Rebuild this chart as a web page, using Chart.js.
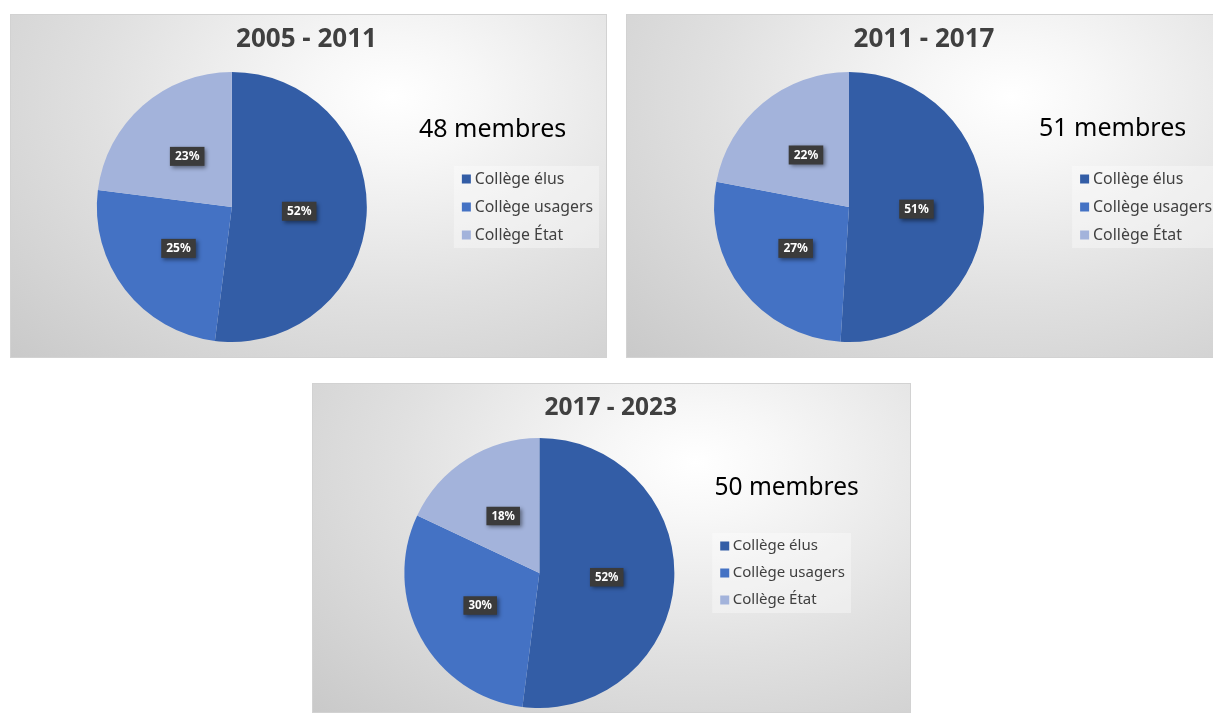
<!DOCTYPE html>
<html lang="fr">
<head>
<meta charset="utf-8">
<title>Composition par collège</title>
<script src="https://cdn.jsdelivr.net/npm/chart.js@4.4.1/dist/chart.umd.min.js"></script>
<style>
  html, body { margin: 0; padding: 0; background: #fff; }
  body { width: 1213px; height: 713px; overflow: hidden; position: relative; }
  .panel {
    position: absolute; overflow: hidden;
    background: radial-gradient(ellipse at 64% 24%, #ffffff 0%, #f7f7f7 16%, #e0e0e0 55%, #c9c9c9 100%);
    box-shadow: inset 0 0 0 1px #d2d2d2;
  }
  .panel canvas { position: absolute; left: 0; top: 0; }
  .membres { position: absolute; font-family: "Noto Sans"; color: #000; line-height: 1; white-space: nowrap; }
</style>
</head>
<body>
<div class="panel" id="p0"><canvas id="c0"></canvas><div class="membres" id="m0"></div></div>
<div class="panel" id="p1"><canvas id="c1"></canvas><div class="membres" id="m1"></div></div>
<div class="panel" id="p2"><canvas id="c2"></canvas><div class="membres" id="m2"></div></div>
<script>
// data
var periods = ['2005 - 2011', '2011 - 2017', '2017 - 2023'];
var membres = [48, 51, 50];
var colleges = ['Collège élus', 'Collège usagers', 'Collège État'];
var parts2005 = [52, 25, 23];
var parts2011 = [51, 27, 22];
var parts2017 = [52, 30, 18];
var allParts = [parts2005, parts2011, parts2017];
var colleges_colors = ['#335da6', '#4472c4', '#a3b3db'];

// layout of each panel (pixels)
var panels = [
    { left: 10,  top: 14,  width: 597, height: 344, titleSize: 26, titlePad: [10.4, 16.4], padL: 0,    padR: 4,  padB: 16,
      legendSize: 15.8, legendPad: 12.2, labelSize: 12, memSize: 25,   memX: 409, memY: 100.8 },
    { left: 626, top: 14,  width: 601, height: 344, titleSize: 26, titlePad: [10.4, 16.4], padL: 0,    padR: 5,  padB: 16,
      legendSize: 15.9, legendPad: 12.1, labelSize: 12, memSize: 25,   memX: 413, memY: 99.8 },
    { left: 312, top: 383, width: 599, height: 330, titleSize: 24.5, titlePad: [10.3, 15.3], padL: 54.5, padR: 56, padB: 5,
      legendSize: 15,   legendPad: 12,   labelSize: 11.5, memSize: 24.5, memX: 402.5, memY: 91.2 }
];

Chart.defaults.font.family = '"Noto Sans"';

// light box behind the legend
var legendBg = {
    id: 'legendBg',
    beforeDraw: function(chart) {
        var hb = chart.legend && chart.legend.legendHitBoxes;
        if (!hb || !hb.length) return;
        var left = Infinity, right = -Infinity;
        hb.forEach(function(b) {
            left = Math.min(left, b.left);
            right = Math.max(right, b.left + b.width);
        });
        var top = hb[0].top + hb[0].height / 2 - 13;
        var last = hb[hb.length - 1];
        var bottom = last.top + last.height / 2 + 13;
        var ctx = chart.ctx;
        ctx.save();
        ctx.fillStyle = 'rgba(255,255,255,0.35)';
        ctx.fillRect(left - 12, top, right - left + 18, bottom - top);
        ctx.restore();
    }
};

// dark percentage boxes in the middle of each slice
var pctLabels = {
    id: 'pctLabels',
    afterDatasetsDraw: function(chart, args, opts) {
        var ctx = chart.ctx;
        var values = chart.data.datasets[0].data;
        var fs = opts.size || 12;
        chart.getDatasetMeta(0).data.forEach(function(arc, i) {
            var p = arc.getCenterPoint();
            var txt = values[i] + '%';
            ctx.save();
            ctx.font = 'bold ' + fs + 'px "Noto Sans"';
            var w = ctx.measureText(txt).width + 10;
            var h = fs + 7;
            ctx.shadowColor = 'rgba(0,0,0,0.45)';
            ctx.shadowBlur = 4;
            ctx.shadowOffsetX = 2;
            ctx.shadowOffsetY = 2;
            ctx.fillStyle = '#3b3b3b';
            ctx.fillRect(p.x - w / 2, p.y - h / 2, w, h);
            ctx.shadowColor = 'transparent';
            ctx.fillStyle = '#ffffff';
            ctx.textAlign = 'center';
            ctx.textBaseline = 'middle';
            ctx.fillText(txt, p.x, p.y + 0.5);
            ctx.restore();
        });
    }
};

panels.forEach(function(pn, k) {
    var div = document.getElementById('p' + k);
    div.style.left = pn.left + 'px';
    div.style.top = pn.top + 'px';
    div.style.width = pn.width + 'px';
    div.style.height = pn.height + 'px';

    var mem = document.getElementById('m' + k);
    mem.textContent = membres[k] + ' membres';
    mem.style.fontSize = pn.memSize + 'px';
    mem.style.left = pn.memX + 'px';
    mem.style.top = pn.memY + 'px';

    var canvas = document.getElementById('c' + k);
    canvas.width = pn.width;
    canvas.height = pn.height;

    new Chart(canvas.getContext('2d'), {
        type: 'pie',
        data: {
            labels: colleges,
            datasets: [{
                data: allParts[k],
                backgroundColor: colleges_colors,
                borderWidth: 0
            }]
        },
        options: {
            responsive: false,
            animation: false,
            layout: { padding: { left: pn.padL, right: pn.padR, top: 0, bottom: pn.padB } },
            plugins: {
                title: {
                    display: true,
                    text: periods[k],
                    color: '#404040',
                    font: { size: pn.titleSize, weight: 'bold' },
                    padding: { top: pn.titlePad[0], bottom: pn.titlePad[1] }
                },
                legend: {
                    position: 'right',
                    fullSize: false, // keep the legend level with the pie
                    labels: {
                        color: '#404040',
                        font: { size: pn.legendSize },
                        usePointStyle: true,
                        pointStyle: 'rect',
                        boxWidth: 1,
                        boxHeight: 9,
                        padding: pn.legendPad
                    }
                },
                tooltip: { enabled: false },
                pctLabels: { size: pn.labelSize }
            }
        },
        plugins: [legendBg, pctLabels]
    });
});
</script>
</body>
</html>
